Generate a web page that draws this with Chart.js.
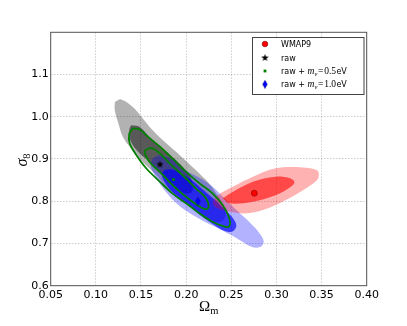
<!DOCTYPE html>
<html>
<head>
<meta charset="utf-8">
<script src="https://cdn.jsdelivr.net/npm/chart.js@4.4.1/dist/chart.umd.min.js"></script>
<style>
  html, body { margin:0; padding:0; background:#fff; }
  canvas { display:block; }
</style>
</head>
<body>
<canvas id="c" width="407" height="326"></canvas>
<script>
// ===================================================
// DATA (Omega_m, sigma_8)
// ===================================================
const xTicks = [0.05, 0.10, 0.15, 0.20, 0.25, 0.30, 0.35, 0.40];
const yTicks = [0.6, 0.7, 0.8, 0.9, 1.0, 1.1];

const wmap9Point = [0.2755, 0.819];
const rawPoint   = [0.171, 0.888];
const nu05Point  = [0.186, 0.851];
const nu10Point  = [0.213, 0.800];

const legendNames = ['WMAP9', 'raw'];
const neutrinoMasses = ['0.5', '1.0'];

// raw: filled 2-sigma / 1-sigma regions
const rawOuter = [[0.121,1.035],[0.128,1.041],[0.141,1.023],[0.152,0.996],[0.163,0.968],[0.178,0.937],[0.193,0.909],[0.207,0.881],[0.222,0.850],[0.2325,0.8215],[0.241,0.791],[0.2435,0.765],[0.237,0.7506],[0.2236,0.760],[0.207,0.784],[0.193,0.807],[0.178,0.834],[0.167,0.862],[0.152,0.893],[0.139,0.925],[0.130,0.952],[0.125,0.984],[0.121,1.015]];
const rawInner = [[0.139,0.980],[0.1486,0.976],[0.163,0.944],[0.178,0.917],[0.189,0.897],[0.1993,0.8735],[0.207,0.845],[0.206,0.8215],[0.198,0.819],[0.187,0.834],[0.1725,0.866],[0.1596,0.893],[0.1486,0.913],[0.139,0.940],[0.137,0.968]];

// raw + m_nu = 1.0eV
const nu10Outer = [[0.163,0.902],[0.171,0.909],[0.184,0.8995],[0.2015,0.871],[0.218,0.852],[0.230,0.833],[0.241,0.810],[0.2556,0.779],[0.270,0.7506],[0.282,0.722],[0.286,0.704],[0.282,0.6915],[0.273,0.6915],[0.2556,0.713],[0.237,0.734],[0.215,0.758],[0.193,0.788],[0.176,0.826],[0.165,0.862],[0.1607,0.885]];
const nu10Inner = [[0.176,0.874],[0.185,0.875],[0.196,0.864],[0.207,0.849],[0.221,0.823],[0.237,0.793],[0.250,0.765],[0.2556,0.7435],[0.252,0.729],[0.2435,0.729],[0.228,0.748],[0.2115,0.774],[0.196,0.801],[0.184,0.823],[0.176,0.846],[0.173,0.864]];

// WMAP9
const wmapOuter = [[0.2295,0.799],[0.235,0.814],[0.2515,0.834],[0.274,0.858],[0.299,0.878],[0.329,0.880],[0.345,0.8735],[0.347,0.862],[0.345,0.850],[0.3326,0.830],[0.3105,0.803],[0.285,0.779],[0.263,0.771],[0.2405,0.779],[0.231,0.789]];
const wmapInner = [[0.2405,0.807],[0.2515,0.822],[0.274,0.846],[0.299,0.858],[0.314,0.855],[0.320,0.846],[0.316,0.834],[0.299,0.814],[0.274,0.799],[0.248,0.795]];

// raw + m_nu = 0.5eV: contour lines only
const nu05Outer = [[0.141,0.972],[0.1486,0.970],[0.156,0.956],[0.171,0.929],[0.185,0.901],[0.200,0.8695],[0.215,0.842],[0.2295,0.818],[0.2405,0.791],[0.248,0.759],[0.248,0.741],[0.244,0.7395],[0.2295,0.751],[0.215,0.771],[0.200,0.795],[0.185,0.818],[0.171,0.846],[0.156,0.8775],[0.145,0.909],[0.1375,0.937],[0.137,0.960]];
const nu05Inner = [[0.158,0.925],[0.163,0.925],[0.171,0.913],[0.184,0.885],[0.198,0.858],[0.211,0.830],[0.222,0.807],[0.225,0.787],[0.222,0.781],[0.215,0.787],[0.202,0.807],[0.187,0.834],[0.1725,0.866],[0.1596,0.893],[0.154,0.917]];

// ===================================================
// HELPERS
// ===================================================
const closed = pts => pts.concat([pts[0]]).map(p => ({x:p[0], y:p[1]}));
const pt = p => [{x:p[0], y:p[1]}];

function markerCanvas(w, h, draw) {
  const c = document.createElement('canvas');
  c.width = w; c.height = h;
  draw(c.getContext('2d'), w, h);
  return c;
}
const starImg = markerCanvas(9, 9, (g, w, h) => {
  g.beginPath();
  for (let i = 0; i < 10; i++) {
    const r = i % 2 ? 1.6 : 3.9;
    const a = -Math.PI/2 + i*Math.PI/5;
    g.lineTo(w/2 + r*Math.cos(a), h/2 + 0.4 + r*Math.sin(a));
  }
  g.closePath();
  g.fillStyle = '#000'; g.fill();
});
const diamondImg = markerCanvas(6, 9, (g, w, h) => {
  g.beginPath();
  g.moveTo(w/2, 0.5); g.lineTo(w-0.7, h/2); g.lineTo(w/2, h-0.5); g.lineTo(0.7, h/2);
  g.closePath();
  g.fillStyle = '#0000ff'; g.fill();
  g.strokeStyle = '#00007a'; g.lineWidth = 0.5; g.stroke();
});

function region(data, color, order) {
  return {type:'line', data:closed(data), backgroundColor:color, borderWidth:0,
          fill:'shape', tension:0.35, pointRadius:0, order};
}
function contour(data, order) {
  return {type:'line', data:closed(data), borderColor:'#008000', borderWidth:1.8,
          backgroundColor:'transparent', fill:false, tension:0.35, pointRadius:0, order};
}

const SANS = '"DejaVu Sans", sans-serif';
const SERIF = '"Liberation Serif", "DejaVu Serif", serif';

function drawRuns(ctx, x, y, runs) {
  runs.forEach(r => {
    ctx.font = r.font;
    ctx.fillText(r.t, x, y + (r.dy || 0));
    x += ctx.measureText(r.t).width + (r.gap || 0);
  });
  return x;
}

// ===================================================
// LEGEND + FRAME + AXIS TITLES
// ===================================================
const decorPlugin = {
  id: 'decor',
  afterDraw(chart) {
    const ctx = chart.ctx, a = chart.chartArea;
    ctx.save();
    ctx.strokeStyle = '#555'; ctx.lineWidth = 1;
    ctx.strokeRect(a.left, a.top, a.right - a.left, a.bottom - a.top);

    // legend box
    ctx.fillStyle = '#fff';
    ctx.fillRect(252.5, 37.5, 111.5, 57);
    ctx.strokeStyle = '#444';
    ctx.strokeRect(252.5, 37.5, 111.5, 57);

    const rows = [44, 57.5, 71, 84.3];
    // markers
    ctx.beginPath(); ctx.arc(265, rows[0], 2.8, 0, 2*Math.PI);
    ctx.fillStyle = '#ff0000'; ctx.fill();
    ctx.strokeStyle = '#7a0000'; ctx.lineWidth = 0.6; ctx.stroke();
    ctx.drawImage(starImg, 265 - 4.5, rows[1] - 4.5);
    ctx.fillStyle = '#008000'; ctx.fillRect(263.6, rows[2] - 1.4, 2.8, 2.8);
    ctx.drawImage(diamondImg, 265 - 3, rows[3] - 4.5);

    ctx.fillStyle = '#000';
    ctx.textBaseline = 'alphabetic';
    const sans = '8px ' + SANS;
    legendNames.forEach((n, i) => drawRuns(ctx, 281, rows[i] + 3, [{t:n, font:sans}]));
    neutrinoMasses.forEach((m, i) => {
      drawRuns(ctx, 281, rows[i + 2] + 3, [
        {t:'raw + ', font:sans},
        {t:'m', font:'italic 9.5px ' + SERIF},
        {t:'ν', font:'italic 6.5px ' + SERIF, dy:1.8, gap:0.8},
        {t:'=', font:'9.5px ' + SERIF, gap:0.8},
        {t:m, font:'9.5px ' + SERIF, gap:0.3},
        {t:'eV', font:sans}
      ]);
    });

    // x title: Omega_m
    ctx.font = '15px ' + SERIF;
    const wO = ctx.measureText('Ω').width;
    ctx.font = '10.5px ' + SERIF;
    const wm = ctx.measureText('m').width;
    drawRuns(ctx, (a.left + a.right)/2 - (wO + wm)/2, 311, [
      {t:'Ω', font:'15px ' + SERIF},
      {t:'m', font:'10.5px ' + SERIF, dy:2.5}
    ]);

    // y title: sigma_8 (rotated)
    ctx.translate(27, (a.top + a.bottom)/2 + 1);
    ctx.rotate(-Math.PI/2);
    ctx.font = 'italic 16px ' + SERIF;
    const ws = ctx.measureText('σ').width;
    ctx.font = '10.5px ' + SERIF;
    const w8 = ctx.measureText('8').width;
    drawRuns(ctx, -(ws + w8)/2, 0, [
      {t:'σ', font:'italic 16px ' + SERIF},
      {t:'8', font:'10.5px ' + SERIF, dy:3}
    ]);
    ctx.restore();
  }
};

// ===================================================
// CHART
// ===================================================
const datasets = [
  {type:'scatter', data:pt(wmap9Point), pointStyle:'circle', pointRadius:3, backgroundColor:'#ff0000', borderColor:'#7a0000', borderWidth:0.6, order:0},
  {type:'scatter', data:pt(rawPoint), pointStyle:starImg, pointRadius:4, order:0},
  {type:'scatter', data:pt(nu05Point), pointStyle:'rect', pointRadius:2, backgroundColor:'#008000', borderColor:'#008000', borderWidth:0, order:0},
  {type:'scatter', data:pt(nu10Point), pointStyle:diamondImg, pointRadius:4, order:0},
  contour(nu05Inner, 1),
  contour(nu05Outer, 1),
  region(wmapInner, 'rgba(255,0,0,0.6)', 2),
  region(wmapOuter, 'rgba(255,0,0,0.3)', 3),
  region(nu10Inner, 'rgba(0,0,255,0.68)', 4),
  region(nu10Outer, 'rgba(0,0,255,0.3)', 5),
  region(rawInner, 'rgba(0,0,0,0.5)', 6),
  region(rawOuter, 'rgba(0,0,0,0.3)', 7),
];

const gridOpts = {color:'rgba(0,0,0,0.2)', lineWidth:1, drawTicks:false};
const tickFont = {family:'DejaVu Sans', size:11};

new Chart(document.getElementById('c'), {
  type: 'scatter',
  data: {datasets},
  options: {
    responsive: false,
    animation: false,
    devicePixelRatio: 1,
    layout: {padding: {top:32.3, right:40.3, left:0, bottom:0}},
    plugins: {legend:{display:false}, tooltip:{enabled:false}},
    scales: {
      x: {
        type:'linear', min:0.05, max:0.40,
        grid: gridOpts,
        border: {display:false, dash:[1.5,1.5]},
        afterBuildTicks: s => { s.ticks = xTicks.map(v => ({value:v})); },
        afterFit: s => { s.height = 40.3; },
        ticks: {color:'#000', font:tickFont, padding:3, maxRotation:0, callback: v => v.toFixed(2)}
      },
      y: {
        type:'linear', min:0.6, max:1.2,
        grid: gridOpts,
        border: {display:false, dash:[1.5,1.5]},
        afterBuildTicks: s => { s.ticks = yTicks.map(v => ({value:v})); },
        afterFit: s => { s.width = 50.7; },
        ticks: {color:'#000', font:tickFont, padding:2, callback: v => v.toFixed(1)}
      }
    }
  },
  plugins: [decorPlugin]
});
</script>
</body>
</html>
